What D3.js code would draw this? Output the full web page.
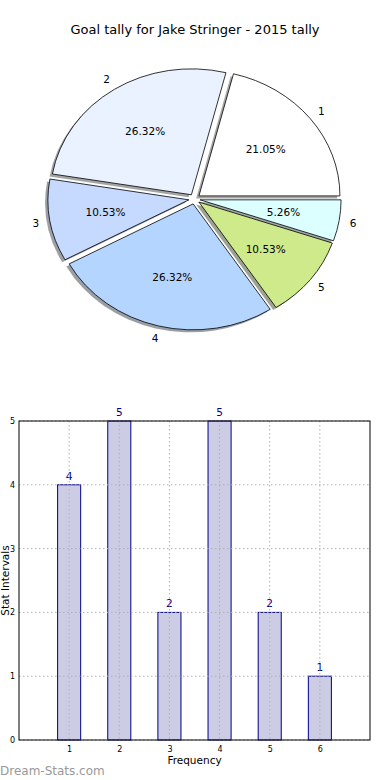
<!DOCTYPE html>
<html><head><meta charset="utf-8">
<script src="https://cdn.jsdelivr.net/npm/d3@7"></script>
<style>body{margin:0;background:#fff}svg{display:block;font-family:"DejaVu Sans",sans-serif}</style>
</head><body>
<script>
const categories = ["1","2","3","4","5","6"];
const values = [4,5,2,5,2,1];
const sliceColors = ["#ffffff","#ebf2ff","#c6d9ff","#b4d5ff","#cfea8a","#dcffff"];
const yTicks = [0,1,2,3,4,5];
const title = "Goal tally for Jake Stringer - 2015 tally";

const W = 390, H = 780;
const svg = d3.select("body").append("svg").attr("width", W).attr("height", H);

svg.append("text").attr("x", 195).attr("y", 34).attr("text-anchor","middle")
  .attr("font-size", 13).attr("fill","#000").text(title);

// ---- Pie ----
const cx = 194.5, cy = 199, rx = 141, ry = 126;
const total = d3.sum(values);
const pie = d3.pie().sort(null).startAngle(Math.PI/2).endAngle(Math.PI/2 - 2*Math.PI);
const arcs = pie(values);
const arc = d3.arc().innerRadius(0).outerRadius(1);
const explode = 0.04, sh = 0.02;
const g = svg.append("g").attr("transform", `translate(${cx},${cy}) scale(${rx},${ry})`);
function mid(a){ const m=(a.startAngle+a.endAngle)/2; return [Math.sin(m), -Math.cos(m)]; }
// shadows
arcs.forEach((a,i)=>{
  const [mx,my]=mid(a);
  const c = d3.rgb(sliceColors[i]);
  g.append("path").attr("d", arc(a))
    .attr("transform", `translate(${mx*explode - sh},${my*explode + sh})`)
    .attr("fill", d3.rgb(c.r*0.3,c.g*0.3,c.b*0.3)).attr("fill-opacity",0.5);
});
arcs.forEach((a,i)=>{
  const [mx,my]=mid(a);
  g.append("path").attr("d", arc(a))
    .attr("transform", `translate(${mx*explode},${my*explode})`)
    .attr("fill", sliceColors[i]).attr("stroke","#000").attr("stroke-width",0.8)
    .attr("vector-effect","non-scaling-stroke");
});
arcs.forEach((a,i)=>{
  const [mx,my]=mid(a);
  svg.append("text").attr("x", cx + rx*mx*(1.1+explode)).attr("y", cy + ry*my*(1.1+explode))
    .attr("text-anchor","middle").attr("dominant-baseline","central").attr("font-size",10.5)
    .text(categories[i]);
  svg.append("text").attr("x", cx + rx*mx*(0.6+explode)).attr("y", cy + ry*my*(0.6+explode))
    .attr("text-anchor","middle").attr("dominant-baseline","central").attr("font-size",10.5)
    .text((values[i]/total*100).toFixed(2)+"%");
});

// ---- Bars ----
const L = 19, R = 370, T = 421, B = 740;
const x = d3.scaleLinear().domain([0,7]).range([L,R]);
const y = d3.scaleLinear().domain([0,5]).range([B,T]);
const bw = 0.46;
const bg = svg.append("g");
categories.forEach((c,i)=>{
  const xv = +c;
  bg.append("rect").attr("x", x(xv-bw/2)).attr("y", y(values[i]))
    .attr("width", x(bw)-x(0)).attr("height", y(0)-y(values[i]))
    .attr("fill","#ccccE5").attr("stroke","#00008b").attr("stroke-width",1);
  bg.append("text").attr("x", x(xv)).attr("y", y(values[i])-5).attr("text-anchor","middle")
    .attr("font-size",10.5).attr("fill","#00008b").text(values[i]);
});
// grid
const grid = svg.append("g").attr("stroke","#b0b0b0").attr("stroke-dasharray","1.5,2.5").attr("stroke-width",1);
categories.forEach(c=>grid.append("line").attr("x1",x(+c)).attr("x2",x(+c)).attr("y1",T).attr("y2",B));
yTicks.forEach(t=>grid.append("line").attr("x1",L).attr("x2",R).attr("y1",y(t)).attr("y2",y(t)));
// frame
svg.append("rect").attr("x",L).attr("y",T).attr("width",R-L).attr("height",B-T)
  .attr("fill","none").attr("stroke","#000").attr("stroke-width",1);
// axes
const xAxis = d3.axisBottom(x).tickValues(categories.map(Number)).tickSize(0).tickPadding(6).tickFormat(d3.format("d"));
const xa = svg.append("g").attr("transform",`translate(0,${B})`).call(xAxis);
xa.select(".domain").remove();
xa.selectAll("text").attr("font-size",8).attr("font-family","DejaVu Sans").attr("fill","#000");
const yAxis = d3.axisLeft(y).tickValues(yTicks).tickSize(0).tickPadding(4).tickFormat(d3.format("d"));
const ya = svg.append("g").attr("transform",`translate(${L},0)`).call(yAxis);
ya.select(".domain").remove();
ya.selectAll("text").attr("font-size",8).attr("font-family","DejaVu Sans").attr("fill","#000");

svg.append("text").attr("x", (L+R)/2).attr("y", 764).attr("text-anchor","middle")
  .attr("font-size",10.5).text("Frequency");
svg.append("text").attr("transform",`translate(9,${(T+B)/2}) rotate(-90)`).attr("text-anchor","middle")
  .attr("font-size",10.5).text("Stat Intervals");
svg.append("text").attr("x",0).attr("y",775).attr("font-size",12).attr("fill","#999")
  .text("Dream-Stats.com");
</script>
</body></html>
